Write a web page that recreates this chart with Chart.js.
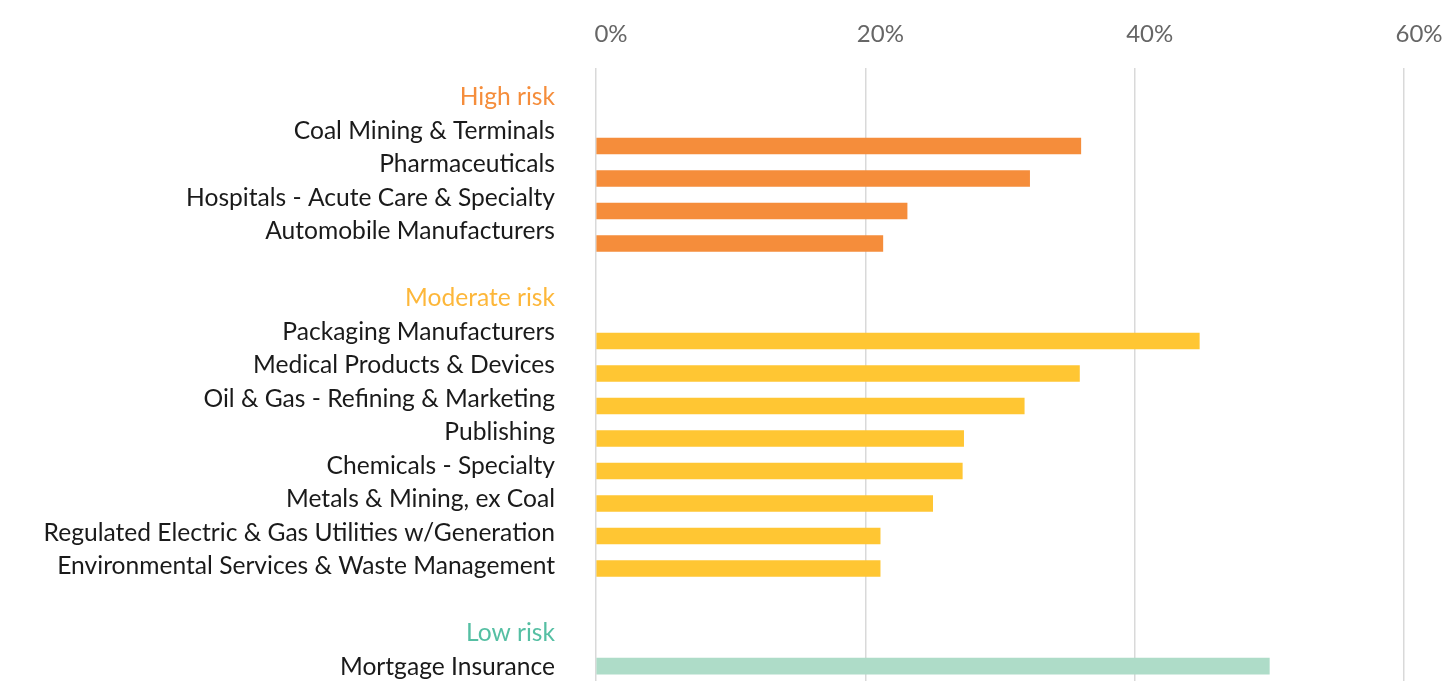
<!DOCTYPE html>
<html>
<head>
<meta charset="utf-8">
<script src="https://cdn.jsdelivr.net/npm/chart.js@4"></script>
<style>
  body { margin: 0; background: #fff; }
  #wrap { width: 1452px; height: 681px; }
</style>
</head>
<body>
<div id="wrap"><canvas id="grafico"></canvas></div>
<script>
// grupos e valores (%)
const groupNames = ["High risk", "Moderate risk", "Low risk"];

const highCategories = ["Coal Mining & Terminals", "Pharmaceuticals", "Hospitals - Acute Care & Specialty", "Automobile Manufacturers"];
const highValues = [36.0, 32.2, 23.1, 21.3];

const moderateCategories = ["Packaging Manufacturers", "Medical Products & Devices", "Oil & Gas - Refining & Marketing", "Publishing", "Chemicals - Specialty", "Metals & Mining, ex Coal", "Regulated Electric & Gas Utilities w/Generation", "Environmental Services & Waste Management"];
const moderateValues = [44.8, 35.9, 31.8, 27.3, 27.2, 25.0, 21.1, 21.1];

const lowCategories = ["Mortgage Insurance"];
const lowValues = [50.0];

const tickValues = [0, 20, 40, 60];

const barColors = ["#F58D3B", "#FFC633", "#AEDCC8"];
const headerColors = ["#F58D3B", "#FDB73A", "#55BFA3"];

// monta as linhas: cabeçalho, itens, linha vazia
const grupos = [
    [highCategories, highValues],
    [moderateCategories, moderateValues],
    [lowCategories, lowValues]
];

let linhas = [];
let pontos = [];
let cores = [];

grupos.forEach((g, gi) => {
    linhas.push({label: groupNames[gi], header: true, group: gi});
    g[0].forEach((nome, i) => {
        pontos.push({x: g[1][i], y: linhas.length});
        cores.push(barColors[gi]);
        linhas.push({label: nome, header: false, group: gi});
    });
    if(gi < grupos.length - 1){
        linhas.push({label: "", header: false, group: gi});
    }
});

const ultima = linhas.length - 1;

function semPadding(scale){
    scale.paddingTop = 0;
    scale.paddingBottom = 0;
    scale.paddingLeft = 0;
    scale.paddingRight = 0;
}

new Chart(document.getElementById("grafico"), {
    type: "bar",
    data: {
        datasets: [{
            data: pontos,
            backgroundColor: cores,
            barThickness: 16,
            yAxisID: "y",
            xAxisID: "x"
        }]
    },
    options: {
        indexAxis: "y",
        responsive: true,
        maintainAspectRatio: false,
        animation: false,
        layout: { autoPadding: false, padding: { left: 0, right: 48, top: 0, bottom: 0 } },
        plugins: {
            legend: { display: false },
            tooltip: { enabled: false }
        },
        scales: {
            x: {
                type: "linear",
                position: "top",
                bounds: "data",
                offset: false,
                min: 0,
                max: 60,
                afterBuildTicks: (scale) => {
                    scale.ticks = tickValues.map(v => ({value: v}));
                },
                afterFit: (scale) => { scale.height = 68; semPadding(scale); },
                grid: {
                    color: "#d9d9d9",
                    lineWidth: 1.5,
                    drawTicks: false,
                    offset: false
                },
                border: { display: false },
                ticks: {
                    padding: 19,
                    labelOffset: 15,
                    color: "#666666",
                    font: { family: "Lato", size: 24 },
                    callback: v => v + "%"
                }
            },
            y: {
                type: "linear",
                display: false,
                reverse: true,
                bounds: "data",
                offset: false,
                min: -1.4,
                max: ultima + 0.46
            },
            rotulos: {
                type: "linear",
                position: "left",
                reverse: true,
                bounds: "data",
                offset: false,
                min: -0.88,
                max: ultima + 0.42,
                afterBuildTicks: (scale) => {
                    scale.ticks = linhas.map((l, i) => ({value: i}));
                },
                afterFit: (scale) => { scale.width = 596; semPadding(scale); },
                grid: { display: false, drawTicks: false, offset: false },
                border: { display: false },
                ticks: {
                    autoSkip: false,
                    padding: 41,
                    font: { family: "Lato", size: 24.6 },
                    color: (ctx) => {
                        const l = linhas[ctx.index];
                        return l && l.header ? headerColors[l.group] : "#1a1a1a";
                    },
                    callback: (v) => linhas[v] ? linhas[v].label : ""
                }
            }
        }
    }
});
</script>
</body>
</html>
